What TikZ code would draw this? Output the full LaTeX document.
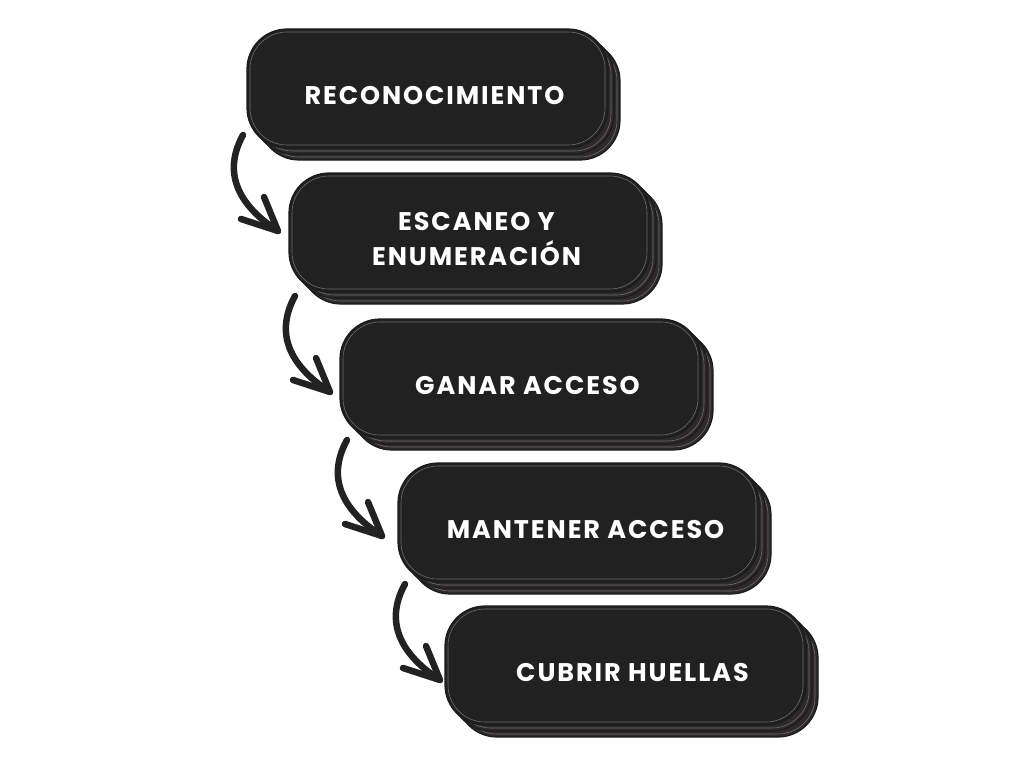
\documentclass[tikz,border=0pt]{standalone}
\usepackage{fontspec}
\setmainfont{Poppins}[LetterSpace=7.5]
\usetikzlibrary{calc}
\pgfdeclarelayer{bg}
\pgfsetlayers{bg,main}
\definecolor{frontfill}{HTML}{212121}
\definecolor{backfill}{HTML}{2D2A2A}
\definecolor{edgec}{HTML}{1B1B1B}
\definecolor{hairc}{HTML}{6E6C6C}
\definecolor{arrowc}{HTML}{222222}
\begin{document}
\begin{tikzpicture}[x=1pt,y=-1pt,
  grp/.style={minimum width=373, minimum height=131, inner sep=0, outer sep=0,
    text=white, font=\bfseries\fontsize{25.5}{35}\selectfont, align=center},
  backlayer/.style={fill=backfill, draw=edgec, line width=1.2, rounded corners=40},
  frontlayer/.style={fill=frontfill, draw=edgec, line width=1.2, rounded corners=40},
  hair/.style={draw=hairc, line width=0.6, rounded corners=37},
  flow/.style={draw=arrowc, line width=6.5, line cap=round, line join=round}]
\useasboundingbox (0,0) rectangle (1024,768);

\node[grp] (b1) at (434.5,95.5) {RECONOCIMIENTO};
\node[grp] (b2) at (476.5,239.5) {ESCANEO Y\\ENUMERACIÓN};
\node[grp] (b3) at (527.5,385.5) {GANAR ACCESO};
\node[grp] (b4) at (585.5,529.5) {MANTENER ACCESO};
\node[grp] (b5) at (632.5,672.5) {CUBRIR HUELLAS};

\begin{pgfonlayer}{bg}
\fill[white] (0,0) rectangle (1024,768);
\foreach \b in {b1,b2,b3,b4,b5} {
  \draw[backlayer] ([shift={(11,11)}]\b.north west) rectangle ([shift={(-1,-1)}]\b.south east);
  \draw[hair] ([shift={(14,14)}]\b.north west) rectangle ([shift={(-4,-4)}]\b.south east);
  \draw[backlayer] ([shift={(5,5)}]\b.north west) rectangle ([shift={(-7,-7)}]\b.south east);
  \draw[hair] ([shift={(8,8)}]\b.north west) rectangle ([shift={(-10,-10)}]\b.south east);
  \draw[frontlayer] ([shift={(-1,-1)}]\b.north west) rectangle ([shift={(-13,-13)}]\b.south east);
  \draw[hair] ([shift={(2,2)}]\b.north west) rectangle ([shift={(-16,-16)}]\b.south east);
}
\end{pgfonlayer}

\coordinate (t1) at ($(b2.north west)+(-12,57)$);
\coordinate (t2) at ($(b3.north west)+(-11,72)$);
\coordinate (t3) at ($(b4.north west)+(-17,72)$);
\coordinate (t4) at ($(b5.north west)+(-6,73)$);

\draw[flow] ($(b1.north west)+(-5,105)$) .. controls +(-22,40) and +(-37,-24) .. (t1);
\draw[flow] ($(b2.north west)+(5,122)$) .. controls +(-22,40) and +(-37,-24) .. (t2);
\draw[flow] ($(b3.north west)+(6,120)$) .. controls +(-22,40) and +(-37,-24) .. (t3);
\draw[flow] ($(b4.north west)+(6,120)$) .. controls +(-22,40) and +(-37,-24) .. (t4);

\foreach \t in {t1,t2,t3,t4}
  \draw[flow] ($(\t)+(-14,-34)$) -- (\t) -- ($(\t)+(-37,-12)$);
\end{tikzpicture}
\end{document}
